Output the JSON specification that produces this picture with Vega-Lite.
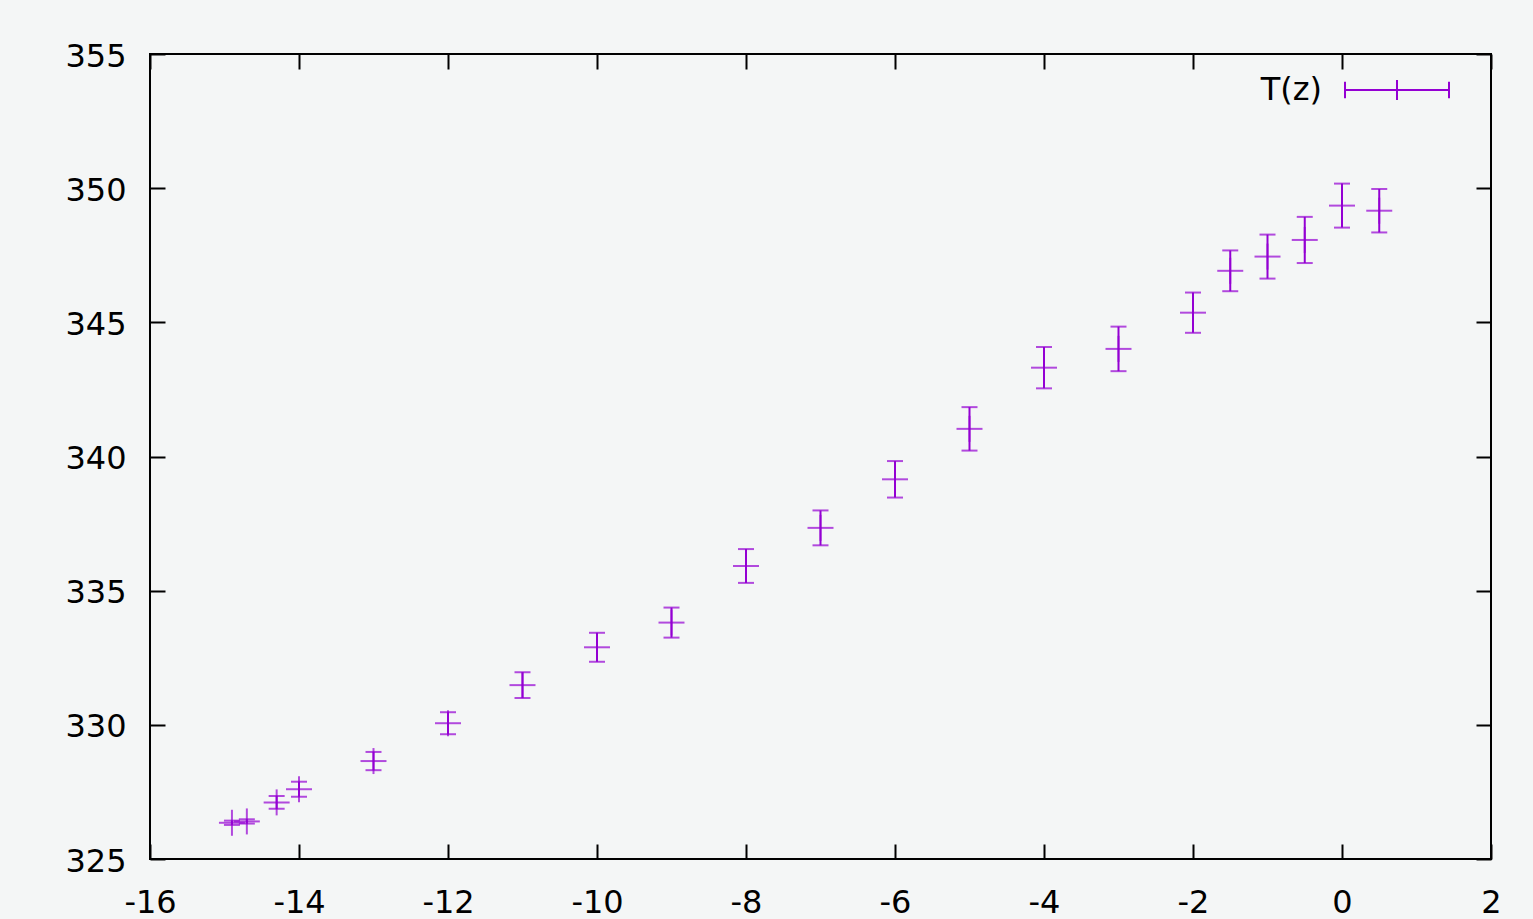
{
  "$schema": "https://vega.github.io/schema/vega-lite/v6.json",
  "autosize": {"type": "none"},
  "padding": {"left": 150, "top": 54, "right": 42, "bottom": 60},
  "width": 1341,
  "height": 805,
  "background": "#f4f6f6",
  "config": {
    "view": {"stroke": "#000000", "strokeWidth": 2},
    "font": "DejaVu Sans"
  },
  "data": {
    "values": [
      {"z": -14.9, "T": 326.35, "lo": 326.27, "hi": 326.43, "s": "T(z)"},
      {"z": -14.7, "T": 326.40, "lo": 326.32, "hi": 326.48, "s": "T(z)"},
      {"z": -14.3, "T": 327.11, "lo": 326.87, "hi": 327.35, "s": "T(z)"},
      {"z": -14.0, "T": 327.60, "lo": 327.32, "hi": 327.88, "s": "T(z)"},
      {"z": -13.0, "T": 328.65, "lo": 328.31, "hi": 328.99, "s": "T(z)"},
      {"z": -12.0, "T": 330.06, "lo": 329.65, "hi": 330.47, "s": "T(z)"},
      {"z": -11.0, "T": 331.48, "lo": 331.00, "hi": 331.96, "s": "T(z)"},
      {"z": -10.0, "T": 332.89, "lo": 332.35, "hi": 333.43, "s": "T(z)"},
      {"z": -9.0, "T": 333.81, "lo": 333.25, "hi": 334.37, "s": "T(z)"},
      {"z": -8.0, "T": 335.92, "lo": 335.29, "hi": 336.55, "s": "T(z)"},
      {"z": -7.0, "T": 337.34, "lo": 336.69, "hi": 337.99, "s": "T(z)"},
      {"z": -6.0, "T": 339.15, "lo": 338.47, "hi": 339.83, "s": "T(z)"},
      {"z": -5.0, "T": 341.03, "lo": 340.22, "hi": 341.84, "s": "T(z)"},
      {"z": -4.0, "T": 343.31, "lo": 342.54, "hi": 344.08, "s": "T(z)"},
      {"z": -3.0, "T": 344.01, "lo": 343.18, "hi": 344.84, "s": "T(z)"},
      {"z": -2.0, "T": 345.36, "lo": 344.61, "hi": 346.11, "s": "T(z)"},
      {"z": -1.5, "T": 346.92, "lo": 346.16, "hi": 347.68, "s": "T(z)"},
      {"z": -1.0, "T": 347.45, "lo": 346.63, "hi": 348.27, "s": "T(z)"},
      {"z": -0.5, "T": 348.07, "lo": 347.21, "hi": 348.93, "s": "T(z)"},
      {"z": 0.0, "T": 349.35, "lo": 348.53, "hi": 350.17, "s": "T(z)"},
      {"z": 0.5, "T": 349.16, "lo": 348.35, "hi": 349.97, "s": "T(z)"}
    ]
  },
  "layer": [
    {
      "mark": {"type": "rule", "strokeWidth": 2},
      "encoding": {
        "x": {
          "field": "z", "type": "quantitative",
          "scale": {"domain": [-16, 2], "nice": false, "zero": false},
          "axis": {
            "orient": "bottom", "title": null, "grid": false, "domain": false,
            "values": [-16, -14, -12, -10, -8, -6, -4, -2, 0, 2],
            "labelExpr": "datum.value < 0 ? '-' + abs(datum.value) : '' + datum.value",
            "tickSize": -15, "tickWidth": 2, "tickColor": "#000000",
            "labelPadding": 43, "labelFontSize": 32, "labelFont": "DejaVu Sans",
            "labelColor": "#000000", "labelFlush": false, "labelOverlap": false
          }
        },
        "y": {
          "field": "lo", "type": "quantitative",
          "scale": {"domain": [325, 355], "nice": false, "zero": false},
          "axis": {
            "orient": "left", "title": null, "grid": false, "domain": false,
            "values": [325, 330, 335, 340, 345, 350, 355],
            "tickSize": -15, "tickWidth": 2, "tickColor": "#000000",
            "labelPadding": 39, "labelFontSize": 32, "labelFont": "DejaVu Sans",
            "labelColor": "#000000", "labelFlush": false, "labelOverlap": false,
            "labelOffset": 2
          }
        },
        "y2": {"field": "hi"},
        "color": {
          "field": "s", "type": "nominal",
          "scale": {"range": ["#9400d3"]},
          "legend": {
            "title": null, "orient": "none", "legendX": 1194, "legendY": -17,
            "padding": 0,
            "symbolType": "M-1,0H1M-1,-0.16V0.16M1,-0.16V0.16M0,-0.19V0.19M-0.15,0H0.15",
            "symbolSize": 10816, "symbolStrokeWidth": 2,
            "symbolStrokeColor": "#9400d3", "symbolFillColor": "transparent",
            "labelFontSize": 32, "labelFont": "DejaVu Sans", "labelColor": "#000000",
            "labelAlign": "right", "labelOffset": -128, "labelLimit": 0
          }
        }
      }
    },
    {
      "mark": {"type": "tick", "orient": "horizontal", "size": 16, "thickness": 2, "color": "#9400d3"},
      "encoding": {
        "x": {
          "field": "z", "type": "quantitative",
          "axis": {
            "orient": "top", "title": null, "grid": false, "domain": false, "labels": false,
            "values": [-16, -14, -12, -10, -8, -6, -4, -2, 0, 2],
            "tickSize": -15, "tickWidth": 2, "tickColor": "#000000"
          }
        },
        "y": {
          "field": "lo", "type": "quantitative",
          "axis": {
            "orient": "right", "title": null, "grid": false, "domain": false, "labels": false,
            "values": [325, 330, 335, 340, 345, 350, 355],
            "tickSize": -15, "tickWidth": 2, "tickColor": "#000000"
          }
        }
      }
    },
    {
      "mark": {"type": "tick", "orient": "horizontal", "size": 16, "thickness": 2, "color": "#9400d3"},
      "encoding": {
        "x": {"field": "z", "type": "quantitative", "axis": null},
        "y": {"field": "hi", "type": "quantitative", "axis": null}
      }
    },
    {
      "mark": {"type": "tick", "orient": "horizontal", "size": 26, "thickness": 2, "color": "#9400d3"},
      "encoding": {
        "x": {"field": "z", "type": "quantitative", "axis": null},
        "y": {"field": "T", "type": "quantitative", "axis": null}
      }
    },
    {
      "mark": {"type": "tick", "orient": "vertical", "size": 26, "thickness": 2, "color": "#9400d3"},
      "encoding": {
        "x": {"field": "z", "type": "quantitative", "axis": null},
        "y": {"field": "T", "type": "quantitative", "axis": null}
      }
    }
  ],
  "resolve": {"axis": {"x": "independent", "y": "independent"}}
}
